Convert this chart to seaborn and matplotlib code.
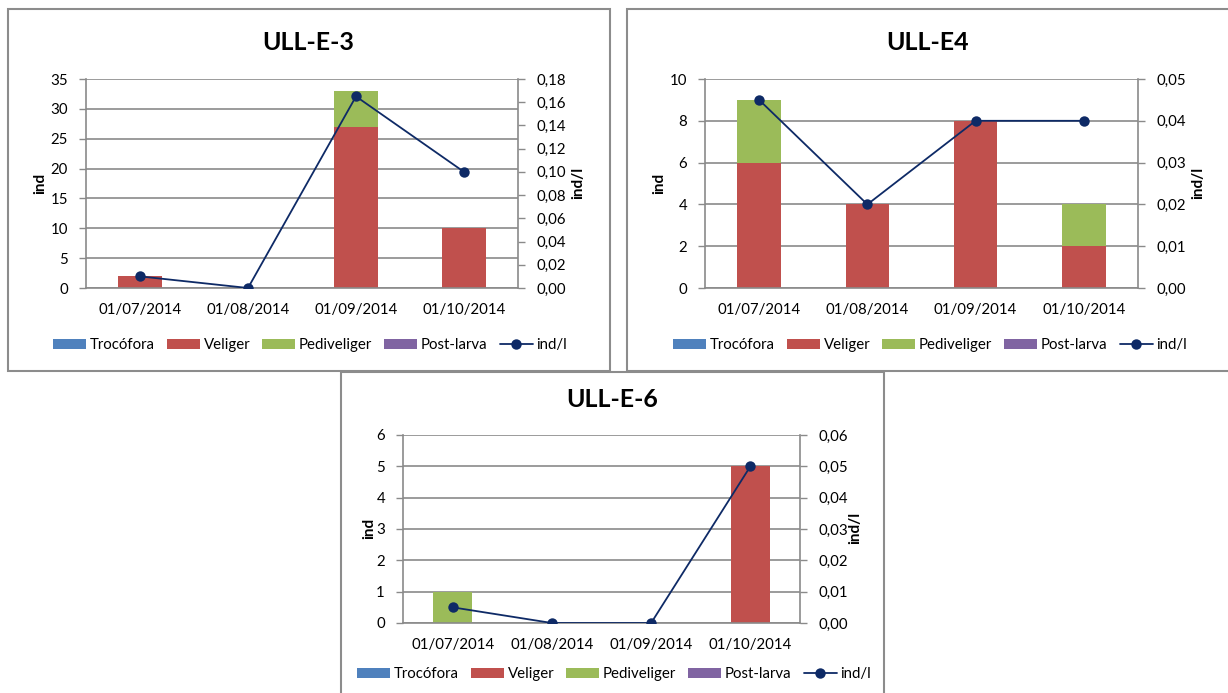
import numpy as np
import matplotlib
matplotlib.use("Agg")
import matplotlib.pyplot as plt
from matplotlib.patches import Rectangle, Patch
from matplotlib.lines import Line2D
from matplotlib.ticker import FuncFormatter, MultipleLocator, FixedLocator, NullFormatter
import seaborn as sns

# ---- data ----
dates = ["01/07/2014", "01/08/2014", "01/09/2014", "01/10/2014"]
stages = ["Trocófora", "Veliger", "Pediveliger", "Post-larva"]

e3_title = "ULL-E-3"
e3_trocofora = [0, 0, 0, 0]
e3_veliger = [2, 0, 27, 10]
e3_pediveliger = [0, 0, 6, 0]
e3_postlarva = [0, 0, 0, 0]
e3_ind_l = [0.01, 0.0, 0.165, 0.10]

e4_title = "ULL-E4"
e4_trocofora = [0, 0, 0, 0]
e4_veliger = [6, 4, 8, 2]
e4_pediveliger = [3, 0, 0, 2]
e4_postlarva = [0, 0, 0, 0]
e4_ind_l = [0.045, 0.02, 0.04, 0.04]

e6_title = "ULL-E-6"
e6_trocofora = [0, 0, 0, 0]
e6_veliger = [0, 0, 0, 5]
e6_pediveliger = [1, 0, 0, 0]
e6_postlarva = [0, 0, 0, 0]
e6_ind_l = [0.005, 0.0, 0.0, 0.05]

# ---- style ----
sns.set_theme(style="white")
plt.rcParams["font.family"] = ["Lato", "DejaVu Sans"]

STAGE_COLORS = ["#4F81BD", "#C0504D", "#9BBB59", "#8064A2"]
LINE_COLOR = "#0E2A66"
GRID = "#8A8A8A"
TEXT = "#000000"
FS = 10.8

W, H = 1228, 693
fig = plt.figure(figsize=(W / 100, H / 100), dpi=100)
fig.patch.set_facecolor("white")


def px_axes(left, top, right, bottom):
    return fig.add_axes([left / W, 1 - bottom / H, (right - left) / W, (bottom - top) / H])


def comma_fmt(v, _pos):
    return f"{v:.2f}".replace(".", ",")


def draw_panel(box, title, stacks, ind_l, ymax, ystep, rmax, rstep,
               title_xy, ylab_x, rlab_x, lab_y, legend_xy):
    left, top, right, bottom = box
    ax = px_axes(left, top, right, bottom)
    pos = np.arange(len(dates))

    # stacked bars drawn as cumulative heights, top layer first
    cum = np.cumsum(np.array(stacks, dtype=float), axis=0)
    for i in range(len(stages) - 1, -1, -1):
        sns.barplot(x=pos, y=cum[i], ax=ax, color=STAGE_COLORS[i], width=0.4,
                    saturation=1, linewidth=0, native_scale=True, zorder=2)

    ax.set_xlim(-0.5, len(dates) - 0.5)
    ax.set_ylim(0, ymax)
    ax.yaxis.set_major_locator(MultipleLocator(ystep))
    ax.set_xticks(pos)
    ax.set_xticklabels(dates)
    ax.xaxis.set_minor_locator(FixedLocator(np.arange(-0.5, len(dates), 1.0)))
    ax.xaxis.set_minor_formatter(NullFormatter())
    ax.tick_params(axis="x", which="major", length=0, pad=11, labelsize=FS, labelcolor=TEXT)
    ax.tick_params(axis="x", which="minor", length=5, width=1, color=GRID, direction="out")
    ax.tick_params(axis="y", length=5, width=1, color=GRID, direction="out", pad=8,
                   labelsize=FS, labelcolor=TEXT, left=True)
    ax.grid(axis="y", color=GRID, linewidth=1.2, zorder=0)
    ax.set_axisbelow(True)
    for s in ["left", "bottom"]:
        ax.spines[s].set_color(GRID)
        ax.spines[s].set_linewidth(1.2)
    ax.spines["top"].set_visible(False)
    ax.spines["right"].set_visible(False)
    ax.set_xlabel("")
    ax.set_ylabel("")

    ax2 = ax.twinx()
    sns.lineplot(x=pos, y=ind_l, ax=ax2, color=LINE_COLOR, linewidth=1.3,
                 marker="o", markersize=7.5, markeredgewidth=0, zorder=5)
    ax2.set_ylim(0, rmax)
    ax2.yaxis.set_major_locator(MultipleLocator(rstep))
    ax2.yaxis.set_major_formatter(FuncFormatter(comma_fmt))
    ax2.tick_params(axis="y", length=5, width=1, color=GRID, direction="out", pad=8,
                    labelsize=FS, labelcolor=TEXT, right=True)
    for s in ["left", "top", "bottom"]:
        ax2.spines[s].set_visible(False)
    ax2.spines["right"].set_color(GRID)
    ax2.spines["right"].set_linewidth(1.2)
    ax2.set_ylabel("")
    ax2.set_xlim(-0.5, len(dates) - 0.5)

    fig.text(title_xy[0] / W, 1 - title_xy[1] / H, title, ha="center", va="center",
             fontsize=18, fontweight="bold", color="black")
    fig.text(ylab_x / W, 1 - lab_y / H, "ind", ha="center", va="center", rotation=90,
             fontsize=11, fontweight="bold", color="black")
    fig.text(rlab_x / W, 1 - lab_y / H, "ind/l", ha="center", va="center", rotation=90,
             fontsize=11, fontweight="bold", color="black")

    handles = [Patch(facecolor=c, edgecolor="none") for c in STAGE_COLORS]
    handles.append(Line2D([0], [0], color=LINE_COLOR, linewidth=1.3, marker="o",
                          markersize=7.5, markeredgewidth=0))
    fig.legend(handles, stages + ["ind/l"], loc="center",
               bbox_to_anchor=(legend_xy[0] / W, 1 - legend_xy[1] / H),
               ncol=5, frameon=False, fontsize=FS, handlelength=2.2, handleheight=0.7,
               handletextpad=0.25, columnspacing=0.8, labelcolor=TEXT)


# panel frames
frame_kw = dict(fill=False, edgecolor="#8C8C8C", linewidth=1.5, transform=fig.transFigure)
for x0, y0, x1, y1 in [(7.5, 9, 609.5, 370.5), (627, 9, 1240, 370.5), (340.5, 372, 883.5, 700)]:
    fig.add_artist(Rectangle((x0 / W, 1 - y1 / H), (x1 - x0) / W, (y1 - y0) / H, **frame_kw))

draw_panel((86, 79, 518, 288), e3_title,
           [e3_trocofora, e3_veliger, e3_pediveliger, e3_postlarva], e3_ind_l,
           35, 5, 0.18, 0.02,
           title_xy=(308, 42), ylab_x=40, rlab_x=578, lab_y=183, legend_xy=(310, 345))

draw_panel((705, 79, 1138, 288), e4_title,
           [e4_trocofora, e4_veliger, e4_pediveliger, e4_postlarva], e4_ind_l,
           10, 2, 0.05, 0.01,
           title_xy=(928, 42), ylab_x=659, rlab_x=1198, lab_y=183, legend_xy=(930, 345))

draw_panel((403, 435, 800, 623), e6_title,
           [e6_trocofora, e6_veliger, e6_pediveliger, e6_postlarva], e6_ind_l,
           6, 1, 0.06, 0.01,
           title_xy=(612, 400), ylab_x=369, rlab_x=855, lab_y=528, legend_xy=(614, 674))

fig.savefig("out.png", dpi=100, facecolor="white")
